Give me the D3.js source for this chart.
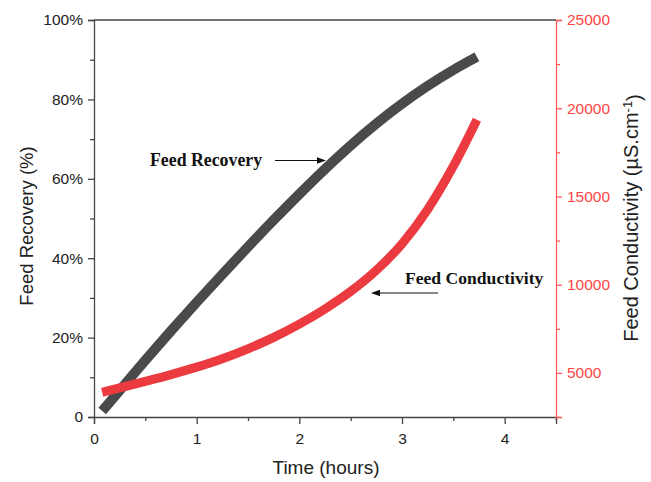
<!DOCTYPE html>
<html>
<head>
<meta charset="utf-8">
<script src="https://cdn.jsdelivr.net/npm/d3@7"></script>
<style>
  body { margin: 0; background: #fff; }
  svg { display: block; }
</style>
</head>
<body>
<svg id="chart" width="651" height="482"></svg>
<script>
// Time since start of the run (hours)
const hours = [0.08, 0.25, 0.5, 0.75, 1.0, 1.25, 1.5, 1.75, 2.0, 2.25, 2.5, 2.75, 3.0, 3.25, 3.5, 3.73];
// Feed recovery (%)
const recoveryPct = [1.5, 6.7, 14.3, 21.7, 28.9, 35.95, 42.85, 49.6, 56.15, 62.45, 68.4, 73.9, 78.9, 83.4, 87.4, 90.7];
// Feed conductivity (µS/cm)
const conductivity = [3900, 4150, 4520, 4905, 5325, 5805, 6365, 7015, 7765, 8625, 9615, 10815, 12315, 14265, 16715, 19350];

const xTicks = [0, 1, 2, 3, 4];
const xMinorTicks = [0.5, 1.5, 2.5, 3.5, 4.5];
const leftTicks = [0, 20, 40, 60, 80, 100];
const leftMinorTicks = [10, 30, 50, 70, 90];
const rightTicks = [5000, 10000, 15000, 20000, 25000];
const rightMinorTicks = [2500, 7500, 12500, 17500, 22500];

const svg = d3.select("#chart");
const plot = { left: 94, right: 556, top: 20, bottom: 417 };

const axisColor = "#444";
const redAxis = "#ff5a5a";
const redText = "#ff4545";

const x = d3.scaleLinear().domain([0, 4.5]).range([plot.left, plot.right]);
const yL = d3.scaleLinear().domain([0, 100]).range([plot.bottom, plot.top]);
const yR = d3.scaleLinear().domain([2500, 25000]).range([plot.bottom, plot.top]);

const tickFont = "Liberation Sans, Arial, sans-serif";

function styleAxis(g, color, textColor) {
  g.select(".domain").attr("stroke", color).attr("stroke-width", 1.3);
  g.selectAll(".tick line").attr("stroke", color).attr("stroke-width", 1.3);
  g.selectAll(".tick text")
    .attr("fill", textColor)
    .style("font-family", tickFont)
    .style("font-size", "15.5px");
}

// top frame line
svg.append("line")
  .attr("x1", plot.left).attr("x2", plot.right)
  .attr("y1", plot.top).attr("y2", plot.top)
  .attr("stroke", axisColor).attr("stroke-width", 1.3);

// bottom axis
const gx = svg.append("g").attr("transform", `translate(0,${plot.bottom})`)
  .call(d3.axisBottom(x).tickValues(xTicks).tickSize(7).tickPadding(5).tickFormat(d3.format("d")));
styleAxis(gx, axisColor, "#222");
gx.selectAll(".tick text").attr("dy", "0.95em");
const gxm = svg.append("g").attr("transform", `translate(0,${plot.bottom})`)
  .call(d3.axisBottom(x).tickValues(xMinorTicks).tickSize(4).tickFormat(""));
styleAxis(gxm, axisColor, "#222");
gxm.select(".domain").remove();

// left axis
const gl = svg.append("g").attr("transform", `translate(${plot.left},0)`)
  .call(d3.axisLeft(yL).tickValues(leftTicks).tickSize(6).tickPadding(5)
    .tickFormat(d => d === 0 ? "0" : d + "%"));
styleAxis(gl, axisColor, "#222");
const glm = svg.append("g").attr("transform", `translate(${plot.left},0)`)
  .call(d3.axisLeft(yL).tickValues(leftMinorTicks).tickSize(4).tickFormat(""));
styleAxis(glm, axisColor, "#222");
glm.select(".domain").remove();

// right axis
const gr = svg.append("g").attr("transform", `translate(${plot.right},0)`)
  .call(d3.axisRight(yR).tickValues(rightTicks).tickSize(6).tickPadding(5).tickFormat(d3.format("d")));
styleAxis(gr, redAxis, redText);
const grm = svg.append("g").attr("transform", `translate(${plot.right},0)`)
  .call(d3.axisRight(yR).tickValues(rightMinorTicks).tickSize(4).tickFormat(""));
styleAxis(grm, redAxis, redText);
grm.select(".domain").remove();

// series
const recoveryLine = d3.line()
  .x((d, i) => x(hours[i]))
  .y(d => yL(d))
  .curve(d3.curveMonotoneX);
const conductivityLine = d3.line()
  .x((d, i) => x(hours[i]))
  .y(d => yR(d))
  .curve(d3.curveMonotoneX);

svg.append("path")
  .attr("d", recoveryLine(recoveryPct))
  .attr("fill", "none")
  .attr("stroke", "#4a4a4a")
  .attr("stroke-width", 10)
  .attr("stroke-linecap", "butt");

svg.append("path")
  .attr("d", conductivityLine(conductivity))
  .attr("fill", "none")
  .attr("stroke", "#ec3b40")
  .attr("stroke-width", 9)
  .attr("stroke-linecap", "butt");

// axis titles
const titleFont = "Liberation Sans, Arial, sans-serif";
svg.append("text")
  .attr("x", 326)
  .attr("y", 474)
  .attr("text-anchor", "middle")
  .style("font-family", titleFont).style("font-size", "19px")
  .attr("fill", "#222")
  .text("Time (hours)");

svg.append("text")
  .attr("transform", "translate(33,226) rotate(-90)")
  .attr("text-anchor", "middle")
  .style("font-family", titleFont).style("font-size", "18.5px")
  .attr("fill", "#222")
  .text("Feed Recovery (%)");

const rt = svg.append("text")
  .attr("transform", "translate(638,218) rotate(-90)")
  .attr("text-anchor", "middle")
  .style("font-family", titleFont).style("font-size", "20px")
  .attr("fill", "#222");
rt.append("tspan").text("Feed Conductivity (µS.cm");
rt.append("tspan").attr("dy", "-0.45em").style("font-size", "13px").text("-1");
rt.append("tspan").attr("dy", "0.45em").text(")");

// annotations
const noteFont = "Liberation Serif, Times New Roman, serif";
function arrow(x1, y1, x2, y2) {
  const ang = Math.atan2(y2 - y1, x2 - x1);
  const len = 9, half = 3.2;
  const bx = x2 - len * Math.cos(ang), by = y2 - len * Math.sin(ang);
  svg.append("line")
    .attr("x1", x1).attr("y1", y1).attr("x2", bx).attr("y2", by)
    .attr("stroke", "#111").attr("stroke-width", 1.2);
  const px = -Math.sin(ang) * half, py = Math.cos(ang) * half;
  svg.append("path")
    .attr("d", `M${x2},${y2}L${bx + px},${by + py}L${bx - px},${by - py}Z`)
    .attr("fill", "#111");
}

svg.append("text")
  .attr("x", 150).attr("y", 166)
  .style("font-family", noteFont).style("font-size", "17.8px").style("font-weight", "bold")
  .attr("fill", "#111")
  .text("Feed Recovery");
arrow(275, 160.5, 326, 160.5);

svg.append("text")
  .attr("x", 405).attr("y", 284)
  .style("font-family", noteFont).style("font-size", "17.6px").style("font-weight", "bold")
  .attr("fill", "#111")
  .text("Feed Conductivity");
arrow(438, 293, 371, 293);
</script>
</body>
</html>
